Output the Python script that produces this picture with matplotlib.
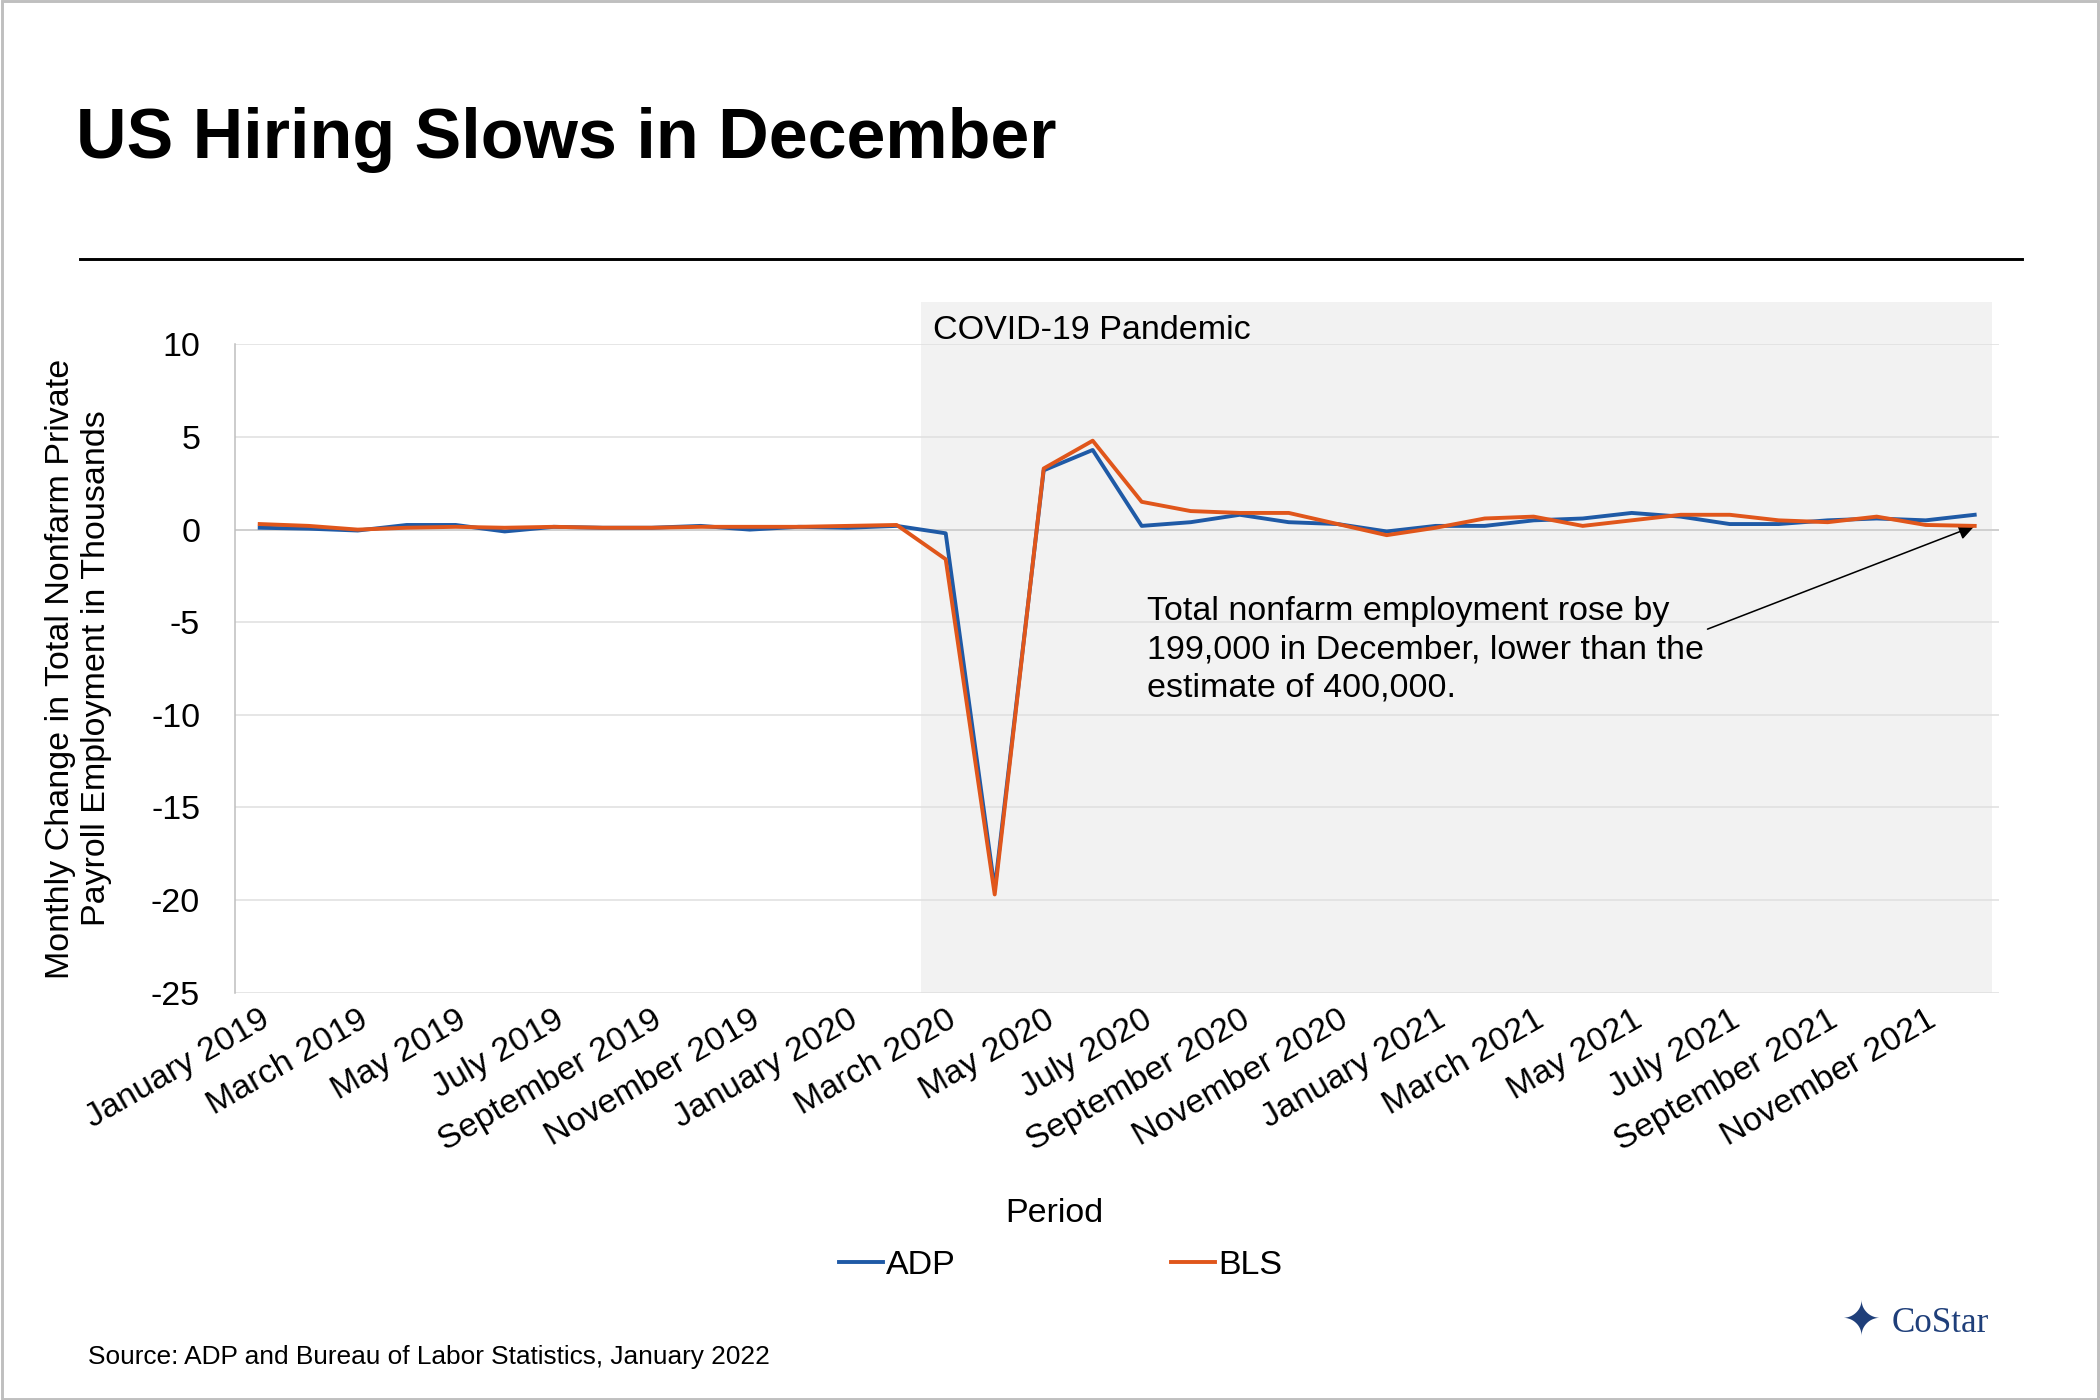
import matplotlib.pyplot as plt
from matplotlib.patches import Rectangle
import numpy as np

months = ["January", "February", "March", "April", "May", "June", "July",
          "August", "September", "October", "November", "December"]
periods = [f"{m} {y}" for y in (2019, 2020, 2021) for m in months]

adp = [0.1, 0.05, -0.05, 0.25, 0.25, -0.1, 0.15, 0.1, 0.1, 0.2, 0.0, 0.15,
       0.1, 0.2, -0.2, -19.4, 3.2, 4.3, 0.2, 0.4, 0.8, 0.4, 0.3, -0.1,
       0.2, 0.2, 0.5, 0.6, 0.9, 0.7, 0.3, 0.3, 0.5, 0.6, 0.5, 0.8]
bls = [0.3, 0.2, 0.0, 0.1, 0.15, 0.1, 0.15, 0.1, 0.1, 0.15, 0.15, 0.15,
       0.2, 0.25, -1.6, -19.7, 3.3, 4.8, 1.5, 1.0, 0.9, 0.9, 0.3, -0.3,
       0.1, 0.6, 0.7, 0.2, 0.5, 0.8, 0.8, 0.5, 0.4, 0.7, 0.25, 0.2]

blue = "#1f5aa6"
orange = "#e0561b"

fig = plt.figure(figsize=(15, 10), dpi=140)
plt.rcParams['font.family'] = ['Liberation Sans', 'DejaVu Sans']
plt.rcParams['axes.unicode_minus'] = False
fs = 17.5

ax = fig.add_axes([0.112, 0.291, 0.84, 0.463])
x = np.arange(len(periods))

# pandemic shading
ax.add_patch(Rectangle((13.5, -25), 35.35 - 13.5, 37.3, facecolor="#f2f2f2",
                       edgecolor="none", zorder=0, clip_on=False))
ax.text(13.75, 11.6, "COVID-19 Pandemic", fontsize=fs, va="top", ha="left")

ax.plot(x, adp, color=blue, lw=2, label="ADP", zorder=3)
ax.plot(x, bls, color=orange, lw=2, label="BLS", zorder=4)

ax.set_xlim(-0.5, 35.5)
ax.set_ylim(-25, 10)
ax.set_yticks(range(-25, 11, 5))
ax.set_xticks(x[::2])
ax.set_xticklabels(periods[::2], rotation=30, ha="right", rotation_mode="anchor")
ax.tick_params(axis="both", labelsize=fs, length=0)
ax.tick_params(axis="x", pad=6)
ax.tick_params(axis="y", pad=18)
ax.grid(axis="y", color="#e0e0e0", lw=0.8)
ax.set_axisbelow(True)
ax.set_facecolor("none")
for s in ["top", "right", "bottom"]:
    ax.spines[s].set_visible(False)
ax.spines["left"].set_color("#bfbfbf")
ax.axhline(0, color="#d0d0d0", lw=1, zorder=1)
ax.set_ylabel("Monthly Change in Total Nonfarm Private\nPayroll Employment in Thousands",
              fontsize=fs, labelpad=20)

ax.annotate("Total nonfarm employment rose by\n199,000 in December, lower than the\nestimate of 400,000.",
            xy=(35, 0.2), xytext=(18.1, -3.6), fontsize=fs, va="top", ha="left",
            linespacing=1.3,
            arrowprops=dict(arrowstyle="-|>", color="black", lw=0.8,
                            shrinkA=0, shrinkB=0, relpos=(1.0, 0.68)))

fig.text(0.036, 0.90, "US Hiring Slows in December", fontsize=36, fontweight="bold",
         va="center", ha="left")
fig.add_artist(plt.Line2D([0.038, 0.963], [0.815, 0.815], color="black", lw=1.5))
fig.text(0.502, 0.133, "Period", fontsize=fs, ha="center", va="center")
fig.legend(loc="center", bbox_to_anchor=(0.505, 0.096), ncol=2, frameon=False,
           fontsize=fs, handlelength=1.3, handletextpad=0.1, columnspacing=6.3)
fig.text(0.042, 0.031, "Source: ADP and Bureau of Labor Statistics, January 2022",
         fontsize=13.5, va="center", ha="left")
fig.text(0.886, 0.055, "\u2726", fontsize=24, color="#1f3f7a", ha="center", va="center")
fig.text(0.901, 0.055, "CoStar", fontsize=18, family=["Liberation Serif"],
         color="#1f3f7a", ha="left", va="center")
fig.add_artist(Rectangle((0.001, 0.001), 0.998, 0.998, transform=fig.transFigure,
                         fill=False, edgecolor="#bfbfbf", lw=1.5))

fig.savefig("out.png", dpi=140, facecolor="white")
